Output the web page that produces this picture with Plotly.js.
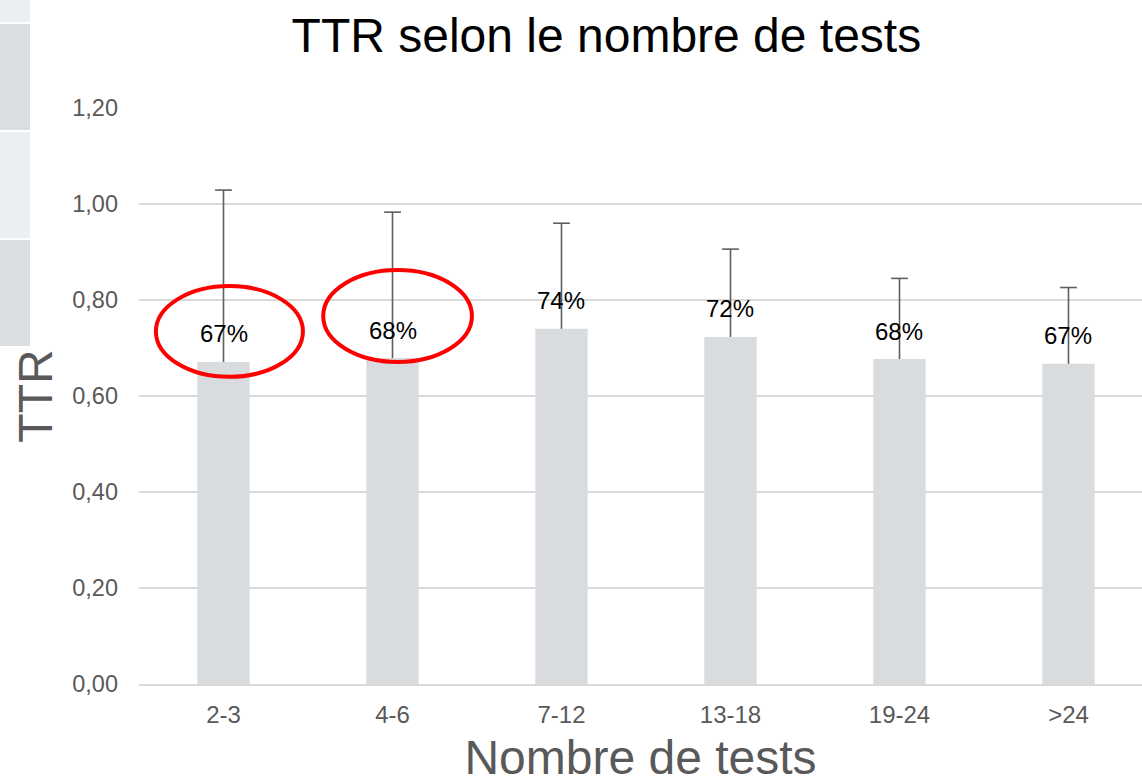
<!DOCTYPE html>
<html>
<head>
<meta charset="utf-8">
<script src="https://cdn.plot.ly/plotly-3.0.1.min.js"></script>
<style>
  html, body { margin: 0; padding: 0; background: #ffffff; }
  #chart { width: 1142px; height: 784px; }
</style>
</head>
<body>
<div id="chart"></div>
<script>
// Data
const categories = ['2-3', '4-6', '7-12', '13-18', '19-24', '>24'];
const ttr = [0.671, 0.679, 0.740, 0.723, 0.677, 0.667];
const errUp = [0.358, 0.304, 0.220, 0.183, 0.168, 0.159];
const labels = ['67%', '68%', '74%', '72%', '68%', '67%'];
const yTicks = [0, 0.2, 0.4, 0.6, 0.8, 1.0, 1.2];

const FONT = 'Liberation Sans, Arial, sans-serif';
const ERR_COLOR = '#5f5f5f';

const barTrace = {
  type: 'bar',
  x: categories,
  y: ttr,
  marker: { color: '#d9dcdf' },
  hoverinfo: 'x+y'
};

// Upper-only error bars: stem from bar top to bar top + error, cap at the top
const stemX = [], stemY = [];
categories.forEach((c, i) => {
  stemX.push(c, c, null);
  stemY.push(ttr[i], ttr[i] + errUp[i], null);
});
const stemTrace = {
  type: 'scatter', mode: 'lines',
  x: stemX, y: stemY,
  line: { color: ERR_COLOR, width: 1.6 },
  hoverinfo: 'skip', connectgaps: false
};
const capTrace = {
  type: 'scatter', mode: 'markers',
  x: categories, y: ttr.map((v, i) => v + errUp[i]),
  marker: { symbol: 'line-ew-open', size: 12, color: ERR_COLOR,
            line: { color: ERR_COLOR, width: 1.6 } },
  hoverinfo: 'skip'
};

const annotations = categories.map((c, i) => ({
  x: c, y: ttr[i], xref: 'x', yref: 'y',
  text: labels[i], showarrow: false,
  yanchor: 'middle', yshift: 28,
  font: { family: FONT, size: 24, color: '#000000' }
}));

// Red hand-drawn ellipses around the first two labels, and the slide's grey side panels
const shapes = [
  { type: 'circle', xref: 'x', yref: 'y', x0: -0.40, x1: 0.47, y0: 0.640, y1: 0.829,
    line: { color: '#ff0000', width: 4 }, layer: 'above' },
  { type: 'circle', xref: 'x', yref: 'y', x0: 0.59, x1: 1.47, y0: 0.671, y1: 0.8625,
    line: { color: '#ff0000', width: 4 }, layer: 'above' },
  { type: 'rect', xref: 'paper', yref: 'paper', x0: -0.1386, x1: -0.1087, y0: 1.149, y1: 1.19,
    fillcolor: '#ebeff1', line: { width: 0 } },
  { type: 'rect', xref: 'paper', yref: 'paper', x0: -0.1386, x1: -0.1087, y0: 0.9618, y1: 1.1458,
    fillcolor: '#dadee1', line: { width: 0 } },
  { type: 'rect', xref: 'paper', yref: 'paper', x0: -0.1386, x1: -0.1087, y0: 0.774, y1: 0.958,
    fillcolor: '#ebeff1', line: { width: 0 } },
  { type: 'rect', xref: 'paper', yref: 'paper', x0: -0.1386, x1: -0.1087, y0: 0.587, y1: 0.771,
    fillcolor: '#dadee1', line: { width: 0 } }
];

const layout = {
  width: 1142,
  height: 784,
  margin: { l: 139, r: 0, t: 108, b: 100 },
  paper_bgcolor: '#ffffff',
  plot_bgcolor: '#ffffff',
  separators: ', ',
  showlegend: false,
  bargap: 0.69,
  title: {
    text: 'TTR selon le nombre de tests',
    font: { family: FONT, size: 48, color: '#000000' },
    x: 0.531, xanchor: 'center',
    y: 0.955, yanchor: 'middle'
  },
  xaxis: {
    type: 'category',
    range: [-0.5, 5.435],
    showgrid: false,
    showline: true,
    linecolor: '#d9d9d9',
    linewidth: 1.5,
    ticks: '',
    tickfont: { family: FONT, size: 24, color: '#595959' },
    ticklabelstandoff: 8,
    title: {
      text: 'Nombre de tests',
      font: { family: FONT, size: 48, color: '#595959' },
      standoff: 23
    }
  },
  yaxis: {
    range: [0, 1.2],
    tickvals: yTicks,
    tickformat: '.2f',
    showgrid: true,
    gridcolor: '#d9d9d9',
    gridwidth: 1.5,
    zeroline: false,
    showline: false,
    ticks: '',
    tickfont: { family: FONT, size: 23.5, color: '#595959' },
    ticklabelstandoff: 20,
    title: {
      text: 'TTR',
      font: { family: FONT, size: 48, color: '#595959' },
      standoff: 4
    }
  },
  annotations: annotations,
  shapes: shapes
};

Plotly.newPlot('chart', [barTrace, stemTrace, capTrace], layout, { displayModeBar: false, responsive: false });
</script>
</body>
</html>
